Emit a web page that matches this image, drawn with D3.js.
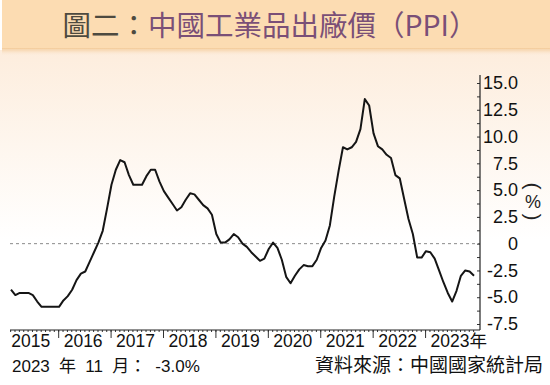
<!DOCTYPE html>
<html>
<head>
<meta charset="utf-8">
<script src="https://cdn.jsdelivr.net/npm/d3@7"></script>
<style>
  body { margin: 0; background: #fff; }
  svg { display: block; }
</style>
</head>
<body>
<div id="chart"></div>
<script>
// monthly PPI, y/y %, Jan 2015 .. Nov 2023
var ppi2015 = [-4.3, -4.8, -4.6, -4.6, -4.6, -4.8, -5.4, -5.9, -5.9, -5.9, -5.9, -5.9];
var ppi2016 = [-5.3, -4.9, -4.3, -3.4, -2.8, -2.6, -1.7, -0.8, 0.1, 1.2, 3.3, 5.5];
var ppi2017 = [6.9, 7.8, 7.6, 6.4, 5.5, 5.5, 5.5, 6.3, 6.9, 6.9, 5.8, 4.9];
var ppi2018 = [4.3, 3.7, 3.1, 3.4, 4.1, 4.7, 4.6, 4.1, 3.6, 3.3, 2.7, 0.9];
var ppi2019 = [0.1, 0.1, 0.4, 0.9, 0.6, 0.0, -0.3, -0.8, -1.2, -1.6, -1.4, -0.5];
var ppi2020 = [0.1, -0.4, -1.5, -3.1, -3.7, -3.0, -2.4, -2.0, -2.1, -2.1, -1.5, -0.4];
var ppi2021 = [0.3, 1.7, 4.4, 6.8, 9.0, 8.8, 9.0, 9.5, 10.7, 13.5, 12.9, 10.3];
var ppi2022 = [9.1, 8.8, 8.3, 8.0, 6.4, 6.1, 4.2, 2.3, 0.9, -1.3, -1.3, -0.7];
var ppi2023 = [-0.8, -1.4, -2.5, -3.6, -4.6, -5.4, -4.4, -3.0, -2.5, -2.6, -3.0];

var years = [2015, 2016, 2017, 2018, 2019, 2020, 2021, 2022, 2023];
var yTicks = [-7.5, -5.0, -2.5, 0, 2.5, 5.0, 7.5, 10.0, 12.5, 15.0];

var titleGrey = "圖二：";
var titlePurple = "中國工業品出廠價（PPI）";
var latestNote = "2023 年 11 月： -3.0%";
var sourceNote = "資料來源：中國國家統計局";

var series = [].concat(ppi2015, ppi2016, ppi2017, ppi2018, ppi2019,
                       ppi2020, ppi2021, ppi2022, ppi2023);

var width = 550;
var height = 385;
var latin = "'Liberation Sans', Arial, sans-serif";
var cjk = "'Liberation Sans', 'Noto Sans CJK TC', sans-serif";

var svg = d3.select("#chart")
    .append("svg")
    .attr("width", width)
    .attr("height", height);

var defs = svg.append("defs");

var bg = defs.append("linearGradient")
    .attr("id", "bgFade")
    .attr("x1", 0).attr("y1", 0).attr("x2", 0).attr("y2", 1);
bg.append("stop").attr("offset", "0%").attr("stop-color", "#fdeddd");
bg.append("stop").attr("offset", "100%").attr("stop-color", "#ffffff");

var shade = defs.append("linearGradient")
    .attr("id", "bandShade")
    .attr("x1", 0).attr("y1", 0).attr("x2", 0).attr("y2", 1);
shade.append("stop").attr("offset", "0%").attr("stop-color", "#f3c995");
shade.append("stop").attr("offset", "100%").attr("stop-color", "#fdeddd").attr("stop-opacity", 0);

svg.append("rect")
    .attr("width", width).attr("height", height)
    .attr("fill", "#ffffff");

svg.append("rect")
    .attr("x", 0).attr("y", 50)
    .attr("width", width).attr("height", 190)
    .attr("fill", "url(#bgFade)");

// title band
svg.append("rect")
    .attr("x", 2).attr("y", 0)
    .attr("width", width - 2).attr("height", 48)
    .attr("fill", "#fcdcb2");
svg.append("rect")
    .attr("x", 2).attr("y", 48)
    .attr("width", width - 2).attr("height", 8)
    .attr("fill", "url(#bandShade)");

var title = svg.append("text")
    .attr("x", 270)
    .attr("y", 36)
    .attr("text-anchor", "middle")
    .style("font-family", "'Noto Sans CJK TC', sans-serif")
    .style("font-size", "28.5px");
title.append("tspan").attr("fill", "#4d4a40").text(titleGrey);
title.append("tspan").attr("fill", "#7a4f77").text(titlePurple);

// scales
var x = d3.scaleLinear()
    .domain([0, series.length - 1])
    .range([11, 474]);

var y = d3.scaleLinear()
    .domain([-7.5, 15])
    .range([324, 83]);

var axisY = 330;
var axisX = 480;

// zero line
svg.append("line")
    .attr("x1", 10).attr("x2", axisX)
    .attr("y1", y(0)).attr("y2", y(0))
    .attr("stroke", "#8a8a8a")
    .attr("stroke-width", 1)
    .attr("stroke-dasharray", "3,3");

// monthly minor ticks on the bottom axis
var months = d3.range(0, series.length);
svg.append("g")
    .attr("transform", "translate(0," + axisY + ")")
    .call(d3.axisBottom(x).tickValues(months.map(function(m) { return m - 0.2; }))
        .tickSize(2).tickSizeOuter(0).tickFormat(""))
    .call(function(g) { g.select(".domain").remove(); })
    .selectAll("line").attr("stroke", "#333");

// year ticks and labels
var yearTickAt = function(yr) { return (yr - years[0]) * 12 - 1.2; };
var xAxis = svg.append("g")
    .attr("transform", "translate(0," + axisY + ")")
    .call(d3.axisBottom(x)
        .tickValues(years.map(yearTickAt))
        .tickSize(8)
        .tickSizeOuter(0)
        .tickFormat(function(d, i) {
            return years[i] + (i === years.length - 1 ? "年" : "");
        }));
xAxis.select(".domain").remove();
xAxis.selectAll(".tick line").attr("stroke", "#333");
xAxis.selectAll(".tick").filter(function(d, i) { return i === 0; })
    .select("line").remove();
xAxis.selectAll(".tick text")
    .attr("text-anchor", "start")
    .attr("y", 17)
    .attr("dy", 0)
    .attr("dx", 5)
    .attr("fill", "#111")
    .style("font-family", cjk)
    .style("font-size", "17.5px");

svg.append("line")
    .attr("x1", 10).attr("x2", axisX)
    .attr("y1", axisY).attr("y2", axisY)
    .attr("stroke", "#222")
    .attr("stroke-width", 1.2);

// right value axis
var yMinor = d3.range(-7.5, 15.01, 1.25);
svg.append("g")
    .attr("transform", "translate(" + axisX + ",0)")
    .call(d3.axisLeft(y).tickValues(yMinor).tickSize(3).tickSizeOuter(0).tickFormat(""))
    .call(function(g) { g.select(".domain").remove(); })
    .selectAll("line").attr("stroke", "#333");

var yAxis = svg.append("g")
    .attr("transform", "translate(" + axisX + ",0)")
    .call(d3.axisRight(y)
        .tickValues(yTicks)
        .tickSize(0)
        .tickPadding(38)
        .tickFormat(function(d) { return d === 0 ? "0" : d.toFixed(1); }));
yAxis.select(".domain").remove();
yAxis.selectAll(".tick text")
    .attr("text-anchor", "end")
    .attr("fill", "#111")
    .style("font-family", latin)
    .style("font-size", "18px");

svg.append("line")
    .attr("x1", axisX).attr("x2", axisX)
    .attr("y1", 75).attr("y2", axisY)
    .attr("stroke", "#222")
    .attr("stroke-width", 1.2);

// unit label, vertical: rotated brackets around an upright %
var unit = svg.append("g")
    .style("font-family", latin)
    .attr("fill", "#222")
    .attr("text-anchor", "middle");
unit.append("text")
    .attr("transform", "translate(533,186) rotate(90)")
    .attr("dominant-baseline", "central")
    .style("font-size", "21px")
    .text("(");
unit.append("text").attr("x", 533).attr("y", 208)
    .style("font-size", "18px").text("%");
unit.append("text")
    .attr("transform", "translate(533,217) rotate(90)")
    .attr("dominant-baseline", "central")
    .style("font-size", "21px")
    .text(")");

// the line
var line = d3.line()
    .x(function(d, i) { return x(i); })
    .y(function(d) { return y(d); });

svg.append("path")
    .datum(series)
    .attr("fill", "none")
    .attr("stroke", "#151515")
    .attr("stroke-width", 2)
    .attr("stroke-linejoin", "round")
    .attr("d", line);

// footer
svg.append("text")
    .attr("x", 12).attr("y", 372)
    .attr("fill", "#111")
    .style("font-family", cjk)
    .style("font-size", "17px")
    .style("word-spacing", "4.5px")
    .text(latestNote);

svg.append("text")
    .attr("x", 543).attr("y", 372)
    .attr("text-anchor", "end")
    .attr("fill", "#111")
    .style("font-family", "'Noto Sans CJK TC', sans-serif")
    .style("font-size", "19px")
    .text(sourceNote);
</script>
</body>
</html>
